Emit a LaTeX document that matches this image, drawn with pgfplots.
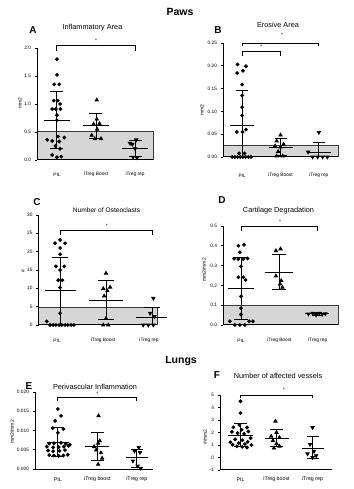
\documentclass[border=0pt]{standalone}
\usepackage{fontspec}
\setmainfont{Liberation Sans}
\usepackage{pgfplots}
\pgfplotsset{compat=1.18}
\definecolor{boxfill}{HTML}{D6D6D6}
\definecolor{boxline}{HTML}{3A3A3A}
\tikzset{
  pil/.style={only marks, mark=*, mark size=1.4pt, black},
  boo/.style={only marks, mark=triangle*, mark size=1.8pt, black},
  rep/.style={only marks, mark=triangle*, mark size=1.8pt, mark options={rotate=180}, black},
  gbox/.style={fill=boxfill, draw=boxline, line width=1pt},
  brk/.style={black, line width=0.9pt},
}
\pgfplotsset{
  prism/.style={
    scale only axis, clip=false, axis on top,
    axis lines=left,
    axis line style={-, line width=1pt, black},
    tick align=outside,
    major tick length=2.5pt,
    ytick style={line width=0.7pt, black},
    xtick={0,1,2},
    xtick style={draw=none},
    scaled y ticks=false,
    tick label style={font=\fontsize{4.8}{5}\selectfont},
    /pgf/number format/assume math mode=true,
    every axis plot/.append style={line width=0.9pt},
  },
  dec/.style={yticklabel style={/pgf/number format/fixed, /pgf/number format/fixed zerofill, /pgf/number format/precision=#1}},
}
% x, mean, lo, hi, meanhalf, caphalf
\newcommand{\msd}[6]{%
  \addplot[black] coordinates {(#1,#3) (#1,#4)};
  \addplot[black, only marks, mark=-, mark size=#5] coordinates {(#1,#2)};
  \addplot[black, only marks, mark=-, mark size=#6] coordinates {(#1,#3) (#1,#4)};
}
% no bottom cap
\newcommand{\msdt}[6]{%
  \addplot[black] coordinates {(#1,#3) (#1,#4)};
  \addplot[black, only marks, mark=-, mark size=#5] coordinates {(#1,#2)};
  \addplot[black, only marks, mark=-, mark size=#6] coordinates {(#1,#4)};
}
\newcommand{\ttl}{\fontsize{7.3}{8}\selectfont}
\newcommand{\lbl}{\fontsize{5}{6}\selectfont}
\begin{document}
\begin{tikzpicture}[x=1pt,y=1pt]
\useasboundingbox (0,0) rectangle (353,489);
% headers
\node[font=\fontsize{10.5}{12}\selectfont\bfseries] at (180,477) {Paws};
\node[font=\fontsize{10.5}{12}\selectfont\bfseries] at (181,128) {Lungs};
% panel letters
\begin{scope}[every node/.style={inner sep=0pt, font=\fontsize{10}{12}\selectfont\bfseries}]
\node at (33,459) {A};
\node at (218,459) {B};
\node at (37,287) {C};
\node at (222,289) {D};
\node at (29,103) {E};
\node at (217,114) {F};
\end{scope}
% titles
\begin{scope}[every node/.style={inner sep=0pt}]
\node[font=\ttl] at (92.5,461) {Inflammatory Area};
\node[font=\ttl] at (278,464) {Erosive Area};
\node[font=\fontsize{6.6}{7}\selectfont] at (106.5,279) {Number of Osteoclasts};
\node[font=\ttl] at (278.5,278) {Cartilage Degradation};
\node[font=\ttl] at (95,102) {Perivascular Inflammation};
\node[font=\ttl] at (278,113) {Number of affected vessels};
\end{scope}
% y labels
\node[font=\lbl, rotate=90] at (20,386) {mm2};
\node[font=\lbl, rotate=90] at (202,379) {mm2};
\node[font=\lbl, rotate=90] at (23,218) {\#};
\node[font=\lbl, rotate=90] at (204,219) {mm2/mm2};
\node[font=\lbl, rotate=90] at (12,57) {mm2/mm2};
\node[font=\lbl, rotate=90] at (205,52) {\#/mm2};

% ---------------- A
\begin{axis}[prism, dec=1, at={(37pt,329pt)}, anchor=south west, width=116pt, height=112pt,
  xmin=-0.51, xmax=2.46, ymin=0, ymax=2, ytick={0,0.5,1,1.5,2},
  xticklabels={PIL,iTreg Boost,iTreg rep},
  xticklabel style={anchor=center, yshift=-12pt}]
\addplot[gbox] coordinates {(-0.51,0) (-0.51,0.5) (2.46,0.5) (2.46,0)};
\msd{0}{0.70}{0.20}{1.22}{13pt}{6.5pt}
\msd{1}{0.61}{0.38}{0.84}{13pt}{6.5pt}
\msd{2}{0.20}{0.06}{0.345}{13pt}{6.5pt}
\addplot[pil] coordinates {(0,1.80) (0,1.52) (-0.07,1.35) (0.06,1.35) (-0.08,1.06) (0.02,1.06) (0.08,1.00) (-0.12,0.91) (-0.03,0.91) (0.09,0.91) (0.0,0.80) (0,0.71) (-0.25,0.36) (-0.12,0.34) (0.03,0.42) (0.19,0.40) (0.06,0.33) (-0.04,0.25) (0.08,0.20) (-0.12,0.09) (0.0,0.05) (0.11,0.06)};
\addplot[boo] coordinates {(1.02,1.07) (1.02,0.73) (0.94,0.64) (1.09,0.65) (1.03,0.55) (0.89,0.44) (0.97,0.38) (1.13,0.38)};
\addplot[rep] coordinates {(2.03,0.36) (1.87,0.30) (1.93,0.28) (2.0,0.20) (1.95,0.05) (2.05,0.04)};
\addplot[brk] coordinates {(0,1.95) (0,2.04) (2,2.04) (2,1.95)};
\node[font=\fontsize{5}{5}\selectfont] at (axis cs:1,2.13) {*};
\end{axis}

% ---------------- B
\begin{axis}[prism, dec=2, at={(223pt,332pt)}, anchor=south west, width=115pt, height=114pt,
  xmin=-0.5, xmax=2.5, ymin=0, ymax=0.25, ytick={0,0.05,0.1,0.15,0.2,0.25},
  xticklabels={PIL,iTreg Boost,iTreg rep},
  xticklabel style={anchor=center, yshift=-16pt}]
\addplot[gbox] coordinates {(-0.5,0) (-0.5,0.026) (2.5,0.026) (2.5,0)};
\msdt{0}{0.069}{0}{0.147}{12pt}{6pt}
\msd{1}{0.021}{0.003}{0.040}{12pt}{6pt}
\msdt{2}{0.011}{0}{0.032}{12pt}{6pt}
\addplot[pil] coordinates {(-0.12,0.203) (0.10,0.199) (-0.13,0.184) (0.02,0.189) (0,0.159) (0,0.135) (0,0.109) (0,0.091) (0.10,0.060) (-0.14,0.055) (0.01,0.055) (-0.08,0.008) (0.06,0.008) (-0.26,0) (-0.19,0) (-0.12,0) (-0.05,0) (0.02,0) (0.09,0) (0.16,0) (0.23,0)};
\addplot[boo] coordinates {(1.0,0.048) (0.90,0.035) (1.08,0.028) (0.86,0.024) (1.0,0.022) (0.94,0.012) (0.90,0.002) (1.06,0.002)};
\addplot[rep] coordinates {(2.0,0.054) (1.72,0.011) (1.84,0) (1.97,0) (2.10,0) (2.22,0)};
\addplot[brk] coordinates {(0,0.243) (0,0.250) (2,0.250) (2,0.243)};
\addplot[brk] coordinates {(0,0.2215) (0,0.231) (1,0.231) (1,0.2215)};
\node[font=\fontsize{5}{5}\selectfont] at (axis cs:1.04,0.268) {*};
\node[font=\fontsize{5}{5}\selectfont] at (axis cs:0.5,0.241) {*};
\end{axis}

% ---------------- C
\begin{axis}[prism, at={(38.5pt,164pt)}, anchor=south west, width=118.5pt, height=110pt,
  xmin=-0.47, xmax=2.11, ymin=0, ymax=30, ytick={0,5,...,30},
  xticklabels={PIL,iTreg Boost,iTreg rep},
  xticklabel style={anchor=center, yshift=-13pt, xshift=-3pt}]
\addplot[gbox] coordinates {(-0.47,0) (-0.47,4.7) (2.11,4.7) (2.11,0)};
\msdt{0}{9.4}{0}{18.5}{15.5pt}{8pt}
\msd{1}{6.8}{1.5}{12.1}{17pt}{8pt}
\msdt{2}{2.1}{0}{4.8}{15.5pt}{8pt}
\addplot[pil] coordinates {(0,23.2) (-0.11,22.3) (0.11,22.3) (0,21) (0,19.3) (-0.09,16) (0.09,16) (0,15) (-0.04,12.2) (0.05,12.2) (0,10.2) (0,3.2) (-0.29,1.0) (-0.22,0) (-0.15,0) (-0.09,0) (-0.02,0) (0.04,0) (0.11,0) (0.17,0) (0.24,0) (0.30,0)};
\addplot[boo] coordinates {(1,14.1) (0.94,9.9) (1.09,10.3) (1.03,9.3) (0.96,7.9) (1.0,1.8) (0.94,0) (1.05,0)};
\addplot[rep] coordinates {(2.03,7.3) (1.96,3.2) (2.05,2.3) (1.81,0) (1.92,0) (2.03,0)};
\addplot[brk] coordinates {(0,24.5) (0,25.7) (2,25.7) (2,24.5)};
\node[font=\fontsize{5}{5}\selectfont] at (axis cs:1.02,27.1) {*};
\end{axis}

% ---------------- D
\begin{axis}[prism, dec=1, at={(223pt,164pt)}, anchor=south west, width=115pt, height=99pt,
  xmin=-0.47, xmax=2.53, ymin=0, ymax=0.5, ytick={0,0.1,0.2,0.3,0.4,0.5},
  xticklabels={PIL,iTreg Boost,iTreg rep},
  xticklabel style={anchor=center, yshift=-13pt}]
\addplot[gbox] coordinates {(-0.47,0) (-0.47,0.1) (2.53,0.1) (2.53,0)};
\msd{0}{0.184}{0.03}{0.34}{13pt}{7pt}
\msd{1}{0.264}{0.178}{0.354}{14pt}{7pt}
\msd{1.97}{0.056}{0.048}{0.064}{12pt}{5pt}
\addplot[pil] coordinates {(-0.07,0.40) (0.08,0.405) (-0.03,0.367) (-0.18,0.335) (-0.07,0.333) (0.06,0.333) (0.17,0.336) (0,0.296) (-0.07,0.241) (0.06,0.241) (0.12,0.227) (0,0.145) (0,0.085) (0,0.053) (-0.29,0.019) (-0.16,0) (-0.03,0) (0.10,0) (0.21,0.019) (0.31,0.019)};
\addplot[boo] coordinates {(0.91,0.375) (1.03,0.384) (0.91,0.247) (1.05,0.224) (1.02,0.207) (1.08,0.19)};
\addplot[rep] coordinates {(1.76,0.056) (1.87,0.059) (1.96,0.051) (2.04,0.060) (2.12,0.054) (2.20,0.057)};
\addplot[brk] coordinates {(0,0.475) (0,0.497) (2,0.497) (2,0.475)};
\node[font=\fontsize{5}{5}\selectfont] at (axis cs:1.02,0.523) {*};
\end{axis}

% ---------------- E
\begin{axis}[prism, dec=3, at={(35pt,20pt)}, anchor=south west, width=118pt, height=77pt,
  xmin=-0.58, xmax=2.41, ymin=0, ymax=0.02, ytick={0,0.005,0.01,0.015,0.02},
  xticklabels={PIL,iTreg boost,iTreg rep},
  xticklabel style={anchor=center, yshift=-8pt, font=\fontsize{5.3}{6}\selectfont}]
\msd{0}{0.0070}{0.0033}{0.0107}{11pt}{6.5pt}
\msd{1}{0.0058}{0.0021}{0.0095}{12pt}{6.5pt}
\msd{2}{0.0029}{0.0005}{0.0052}{11pt}{6pt}
\addplot[pil] coordinates {(0,0.0156) (0.08,0.0138) (-0.07,0.0125) (-0.13,0.0106) (0.14,0.0104) (0.0,0.0094) (-0.22,0.0066) (-0.10,0.0067) (0.08,0.0068) (0.20,0.0065) (0.30,0.0063) (-0.28,0.0058) (-0.12,0.0056) (0.02,0.0057) (0.15,0.0058) (0.27,0.0060) (-0.25,0.0048) (-0.12,0.0046) (0.04,0.0047) (0.18,0.0049) (-0.22,0.0036) (-0.10,0.0035) (0.02,0.0034) (0.14,0.0035) (0.25,0.0037)};
\addplot[boo] coordinates {(1.03,0.0138) (1.06,0.0073) (1.02,0.0067) (0.92,0.0058) (0.97,0.0049) (1.09,0.0042) (1.12,0.0028) (1.02,0.0012)};
\addplot[rep] coordinates {(2.05,0.0056) (1.94,0.0047) (2.08,0.0043) (1.90,0.0021) (2.02,0.0008) (2.10,0.0002)};
\addplot[brk] coordinates {(0,0.0177) (0,0.0186) (2,0.0186) (2,0.0177)};
\node[font=\fontsize{5}{5}\selectfont, inner sep=0pt] at (axis cs:1,0.0196) {*};
\end{axis}

% ---------------- F
\begin{axis}[prism, at={(220pt,19pt)}, anchor=south west, width=112pt, height=75pt,
  xmin=-0.57, xmax=2.54, ymin=-1, ymax=5, ytick={-1,0,1,2,3,4,5},
  xticklabels={PIL,iTreg boost,iTreg rep},
  xticklabel style={anchor=center, yshift=-7pt, font=\fontsize{5.3}{6}\selectfont}]
\msd{0}{1.8}{0.87}{2.75}{12.5pt}{6.5pt}
\msd{1}{1.55}{0.85}{2.25}{12pt}{6.5pt}
\msd{2}{0.75}{-0.1}{1.65}{11pt}{6pt}
\addplot[pil] coordinates {(0,4.5) (0,3.55) (-0.03,2.6) (-0.20,2.42) (0.18,2.40) (0.03,2.22) (-0.24,2.05) (0.22,2.08) (-0.08,1.95) (0.10,1.90) (0.28,1.55) (-0.15,1.45) (0.05,1.38) (-0.28,1.22) (0.20,1.25) (-0.05,1.15) (0.12,1.08) (-0.22,1.02) (0.30,1.0) (-0.10,0.9) (0.05,0.85) (0.18,0.80)};
\addplot[boo] coordinates {(0.97,2.9) (1.0,2.0) (0.85,1.7) (1.08,1.6) (0.90,1.35) (1.0,1.1) (1.08,0.9) (0.93,0.75)};
\addplot[rep] coordinates {(2.0,2.4) (1.93,1.05) (2.04,0.5) (1.86,0.3) (2.10,0.15) (2.0,0.0)};
\addplot[brk] coordinates {(0,4.73) (0,5.0) (2,5.0) (2,4.73)};
\node[font=\fontsize{5}{5}\selectfont] at (axis cs:1.2,5.45) {*};
\end{axis}
\end{tikzpicture}
\end{document}
